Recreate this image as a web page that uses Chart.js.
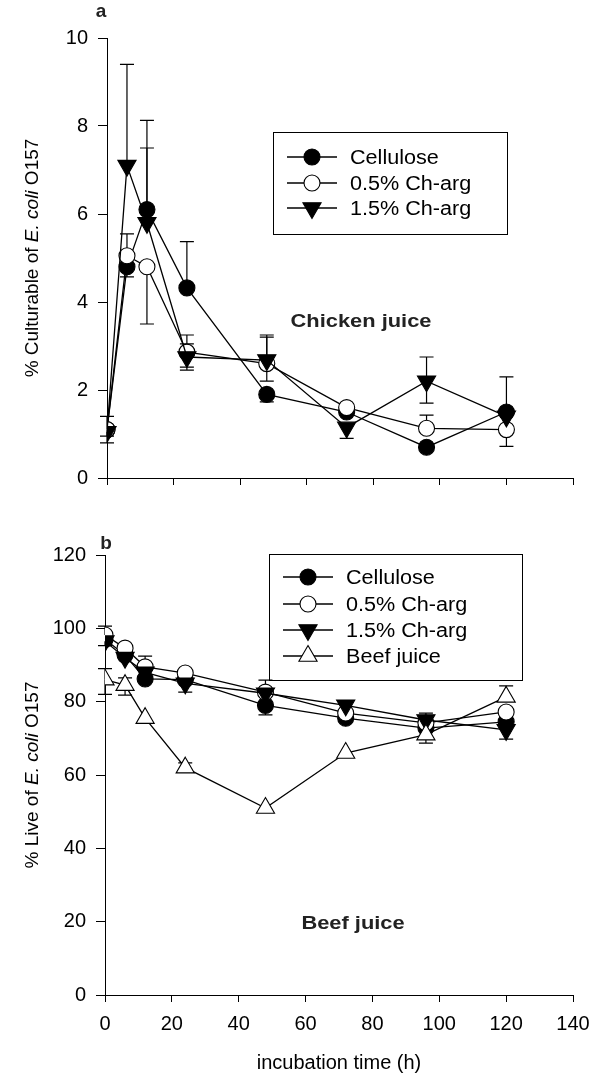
<!DOCTYPE html>
<html>
<head>
<meta charset="utf-8">
<script src="https://cdn.jsdelivr.net/npm/chart.js@4.4.0/dist/chart.umd.min.js"></script>
<style>
  html, body { margin: 0; padding: 0; background: #fff; }
  canvas { position: absolute; left: 0; }
  #chartA { top: 0; }
  #chartB { top: 520px; }
</style>
</head>
<body>
<canvas id="chartA" width="592" height="500"></canvas>
<canvas id="chartB" width="592" height="558"></canvas>
<script>
// sampling times (h)
const hours = [0, 6, 12, 24, 48, 72, 96, 120];

// panel a - chicken juice, % culturable
const celluloseA = [1.1, 4.8, 6.1, 4.32, 1.9, 1.5, 0.7, 1.5];
const celluloseAUp = [0.3, 0, 2.03, 1.05, 0, 0, 0, 0.8];
const celluloseADown = [0, 0.23, 0, 0, 0.17, 0, 0, 0];
const charg05A = [1.1, 5.05, 4.8, 2.86, 2.6, 1.6, 1.13, 1.1];
const charg05AUp = [0, 0.5, 0, 0.39, 0.6, 0, 0.3, 0];
const charg05ADown = [0.15, 0, 1.3, 0.34, 0.4, 0, 0, 0.38];
const charg15A = [1.05, 7.1, 5.8, 2.75, 2.68, 1.15, 2.2, 1.4];
const charg15AUp = [0, 2.3, 1.7, 0.3, 0.57, 0, 0.55, 0];
const charg15ADown = [0.25, 0, 0, 0.3, 0, 0.25, 0.5, 0];

// panel b - beef juice, % live
const celluloseB = [97, 92.7, 86.2, 86, 79, 75.5, 72.8, 74.5];
const celluloseBUp = [0, 0, 0, 0, 0, 0, 0, 0];
const celluloseBDown = [0, 0, 0, 0, 2.6, 0, 0, 0];
const charg05B = [98.2, 94.6, 89.5, 87.8, 82.6, 76.9, 74.2, 77.2];
const charg05BUp = [2.4, 0, 2.9, 0, 0, 0, 0, 0];
const charg05BDown = [0, 0, 0, 0, 0, 2.2, 0, 1.3];
const charg15B = [96.5, 92, 88, 85, 82.3, 79, 75, 72.3];
const charg15BUp = [0, 0, 0, 0, 3.6, 0, 1.9, 0];
const charg15BDown = [1.2, 0, 0, 2.4, 0, 0, 0, 2.5];
const beefB = [86, 84.5, 75.5, 62, 51, 66, 71, 81.3];
const beefBUp = [3, 2, 0, 1.3, 0, 0, 0, 3];
const beefBDown = [4, 2.7, 0, 1.3, 0, 0, 2.3, 0];

const seriesNames = ['Cellulose', '0.5% Ch-arg', '1.5% Ch-arg', 'Beef juice'];

const FONT = 'Arial, "Liberation Sans", sans-serif';

function pts(vals) {
  return hours.map((h, i) => ({x: h, y: vals[i]}));
}

// marker looks for each series
const looks = [
  {pointStyle: 'circle', radius: 8, rotation: 0, fill: '#000'},
  {pointStyle: 'circle', radius: 8, rotation: 0, fill: '#fff'},
  {pointStyle: 'triangle', radius: 10.5, rotation: 180, fill: '#000'},
  {pointStyle: 'triangle', radius: 10.5, rotation: 0, fill: '#fff'}
];

function makeSet(idx, vals, up, down) {
  const lk = looks[idx];
  return {
    label: seriesNames[idx],
    data: pts(vals),
    errUp: up,
    errDown: down,
    order: 10 - idx,
    borderColor: '#000',
    borderWidth: 1.3,
    backgroundColor: lk.fill,
    pointBackgroundColor: lk.fill,
    pointBorderColor: '#000',
    pointBorderWidth: 1.1,
    pointStyle: lk.pointStyle,
    pointRotation: lk.rotation,
    pointRadius: lk.radius,
    pointHoverRadius: lk.radius,
    tension: 0,
    fill: false
  };
}

// error bars, drawn under the markers
const errorBars = {
  id: 'errorBars',
  beforeDatasetsDraw(chart) {
    const ctx = chart.ctx;
    const xs = chart.scales.x, ys = chart.scales.y;
    ctx.save();
    ctx.strokeStyle = '#000';
    ctx.lineWidth = 1.2;
    chart.data.datasets.forEach(ds => {
      ds.data.forEach((p, i) => {
        const x = xs.getPixelForValue(p.x);
        const y = ys.getPixelForValue(p.y);
        [[ds.errUp, 1], [ds.errDown, -1]].forEach(([arr, dir]) => {
          const e = arr ? arr[i] : 0;
          if (!e) return;
          const ye = ys.getPixelForValue(p.y + dir * e);
          ctx.beginPath();
          ctx.moveTo(x, y); ctx.lineTo(x, ye);
          ctx.moveTo(x - 7, ye); ctx.lineTo(x + 7, ye);
          ctx.stroke();
        });
      });
    });
    ctx.restore();
  }
};

function drawMarker(ctx, lk, x, y) {
  ctx.save();
  ctx.fillStyle = lk.fill;
  ctx.strokeStyle = '#000';
  ctx.lineWidth = 1.1;
  if (Chart.helpers && Chart.helpers.drawPoint) {
    Chart.helpers.drawPoint(ctx, {pointStyle: lk.pointStyle, rotation: lk.rotation, radius: lk.radius, borderWidth: 1.1}, x, y);
  } else {
    ctx.beginPath();
    ctx.arc(x, y, lk.radius, 0, Math.PI * 2);
    ctx.fill(); ctx.stroke();
  }
  ctx.restore();
}

// text drawn a little wider, like the source figure
function wideText(ctx, txt, x, y, sx) {
  ctx.save();
  ctx.translate(x, y);
  ctx.scale(sx, 1);
  ctx.fillText(txt, 0, 0);
  ctx.restore();
}

// legend box, annotation text, panel letter and y title
const extras = {
  id: 'extras',
  afterDraw(chart, args, o) {
    const ctx = chart.ctx;
    ctx.save();
    // legend
    const lg = o.legend;
    ctx.strokeStyle = '#000';
    ctx.lineWidth = 1;
    ctx.strokeRect(lg.x0 + 0.5, lg.y0 + 0.5, lg.x1 - lg.x0, lg.y1 - lg.y0);
    ctx.font = '20px ' + FONT;
    ctx.textBaseline = 'middle';
    ctx.textAlign = 'left';
    lg.rows.forEach((ry, k) => {
      ctx.beginPath();
      ctx.lineWidth = 1.3;
      ctx.moveTo(lg.lineX0, ry); ctx.lineTo(lg.lineX1, ry);
      ctx.stroke();
      drawMarker(ctx, looks[k], (lg.lineX0 + lg.lineX1) / 2, ry);
      ctx.fillStyle = '#000';
      wideText(ctx, seriesNames[k], lg.textX, ry + 1, 1.08);
    });
    // juice label
    ctx.font = 'bold 19px ' + FONT;
    ctx.fillStyle = '#222';
    ctx.textAlign = 'center';
    wideText(ctx, o.note.text, o.note.x, o.note.y, 1.15);
    // panel letter
    ctx.font = 'bold 19px ' + FONT;
    ctx.fillText(o.letter.text, o.letter.x, o.letter.y);
    // y title with italic species name
    const parts = o.ytitle.parts;
    ctx.translate(o.ytitle.x, o.ytitle.y);
    ctx.rotate(-Math.PI / 2);
    ctx.textAlign = 'left';
    ctx.fillStyle = '#000';
    let total = 0;
    parts.forEach(pt => { ctx.font = (pt.italic ? 'italic ' : '') + '19px ' + FONT; total += ctx.measureText(pt.t).width; });
    let cx = -total / 2;
    parts.forEach(pt => {
      ctx.font = (pt.italic ? 'italic ' : '') + '19px ' + FONT;
      ctx.fillText(pt.t, cx, 0);
      cx += ctx.measureText(pt.t).width;
    });
    ctx.restore();
  }
};

function axisX(showLabels) {
  return {
    type: 'linear', min: 0, max: 140,
    afterFit: s => { s.height = showLabels ? 80 : 22; s.paddingLeft = 0; s.paddingRight = 0; },
    ticks: {stepSize: 20, display: showLabels, color: '#000', padding: 10, font: {family: FONT, size: 20}, maxRotation: 0},
    grid: {drawOnChartArea: false, drawTicks: true, tickLength: 7, color: '#000', lineWidth: 1},
    border: {display: true, color: '#000', width: 1},
    title: {display: showLabels, text: 'incubation time (h)', color: '#000', font: {family: FONT, size: 20}, padding: {top: 0, bottom: 0}}
  };
}

function axisY(max, step, width) {
  return {
    type: 'linear', min: 0, max: max,
    afterFit: s => { s.width = width; s.paddingTop = 0; s.paddingBottom = 0; },
    ticks: {stepSize: step, color: '#000', padding: 10, font: {family: FONT, size: 20}},
    grid: {drawOnChartArea: false, drawTicks: true, tickLength: 9, color: '#000', lineWidth: 1},
    border: {display: true, color: '#000', width: 1}
  };
}

const common = {
  responsive: false,
  animation: false,
  devicePixelRatio: 1,
  plugins: {legend: {display: false}, tooltip: {enabled: false}}
};

new Chart(document.getElementById('chartA'), {
  type: 'line',
  data: {
    datasets: [
      makeSet(0, celluloseA, celluloseAUp, celluloseADown),
      makeSet(1, charg05A, charg05AUp, charg05ADown),
      makeSet(2, charg15A, charg15AUp, charg15ADown)
    ]
  },
  options: Object.assign({}, common, {
    layout: {padding: {top: 38, right: 19, bottom: 0, left: 0}},
    scales: {x: axisX(false), y: axisY(10, 2, 107)},
    plugins: Object.assign({}, common.plugins, {
      extras: {
        legend: {x0: 273, y0: 132, x1: 507, y1: 234, rows: [157, 183, 208], lineX0: 287, lineX1: 337, textX: 350},
        note: {text: 'Chicken juice', x: 361, y: 322},
        letter: {text: 'a', x: 101, y: 12},
        ytitle: {x: 33, y: 258, parts: [{t: '% Culturable of '}, {t: 'E. coli', italic: true}, {t: ' O157'}]}
      }
    })
  }),
  plugins: [errorBars, extras]
});

new Chart(document.getElementById('chartB'), {
  type: 'line',
  data: {
    datasets: [
      makeSet(0, celluloseB, celluloseBUp, celluloseBDown),
      makeSet(1, charg05B, charg05BUp, charg05BDown),
      makeSet(2, charg15B, charg15BUp, charg15BDown),
      makeSet(3, beefB, beefBUp, beefBDown)
    ]
  },
  options: Object.assign({}, common, {
    layout: {padding: {top: 35, right: 19, bottom: 3, left: 0}},
    scales: {x: axisX(true), y: axisY(120, 20, 105)},
    plugins: Object.assign({}, common.plugins, {
      extras: {
        legend: {x0: 269, y0: 34, x1: 522, y1: 160, rows: [57, 84, 110, 136], lineX0: 283, lineX1: 333, textX: 346},
        note: {text: 'Beef juice', x: 353, y: 404},
        letter: {text: 'b', x: 106, y: 24},
        ytitle: {x: 33, y: 255, parts: [{t: '% Live of '}, {t: 'E. coli', italic: true}, {t: ' O157'}]}
      }
    })
  }),
  plugins: [errorBars, extras]
});
</script>
</body>
</html>
